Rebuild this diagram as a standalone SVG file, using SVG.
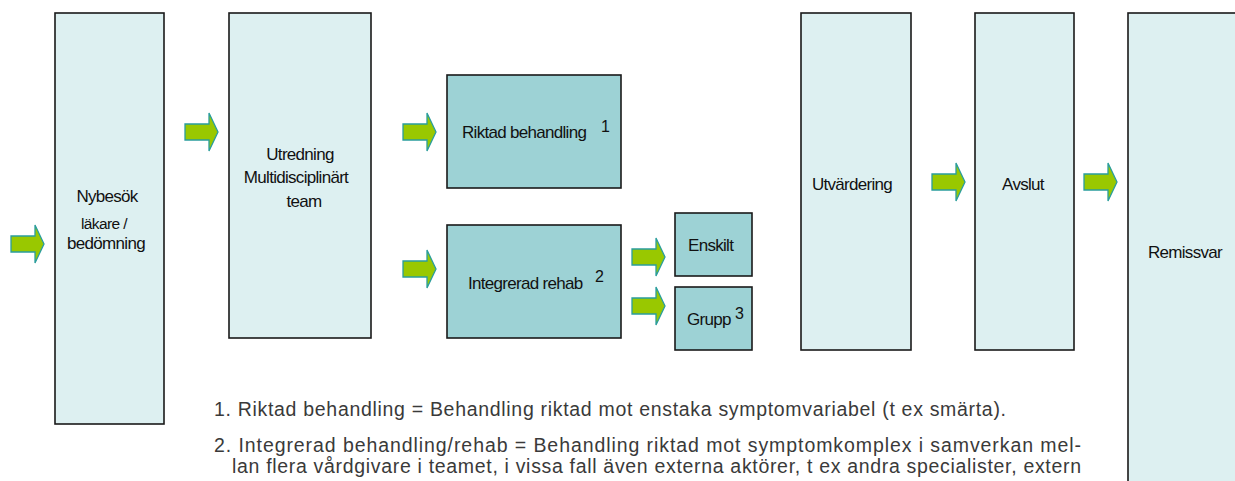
<svg xmlns="http://www.w3.org/2000/svg" width="1235" height="481" viewBox="0 0 1235 481">
  <style>
    .box-light { fill: #ddf0f1; stroke: #1a1a1a; stroke-width: 1.6; }
    .box-dark { fill: #9dd2d5; stroke: #1a1a1a; stroke-width: 1.6; }
    .lbl { font-family: "Liberation Sans", Arial, sans-serif; font-size: 17px; letter-spacing: -0.7px; fill: #111; }
    .sm { font-size: 15.5px; letter-spacing: -0.6px; }
    .sup { font-family: "Liberation Sans", Arial, sans-serif; font-size: 16px; fill: #111; }
    .note { font-family: "Liberation Sans", Arial, sans-serif; font-size: 19.5px; fill: #3a3a3a; }
    .arrow { fill: #99c800; stroke: #2a9d9d; stroke-width: 1.3; stroke-linejoin: miter; }
  </style>
  <defs>
    <path id="arr" d="M0,-8 L24,-8 L24,-19 L33,0 L24,19 L24,8 L0,8 Z"/>
  </defs>
  <rect width="1235" height="481" fill="#ffffff"/>

  <g id="connectors">
    <use href="#arr" class="arrow" x="11" y="244"/>
    <use href="#arr" class="arrow" x="185" y="132"/>
    <use href="#arr" class="arrow" x="403" y="132"/>
    <use href="#arr" class="arrow" x="403" y="269"/>
    <use href="#arr" class="arrow" x="632" y="257"/>
    <use href="#arr" class="arrow" x="632" y="306"/>
    <use href="#arr" class="arrow" x="932" y="182"/>
    <use href="#arr" class="arrow" x="1084" y="182"/>
  </g>

  <g id="nybesok">
    <rect class="box-light" x="55" y="13" width="109" height="411"/>
    <text class="lbl" x="107" y="202" text-anchor="middle">Nybesök</text>
    <text class="lbl sm" x="104" y="229" text-anchor="middle">läkare /</text>
    <text class="lbl" x="106" y="249" text-anchor="middle">bedömning</text>
  </g>

  <g id="utredning">
    <rect class="box-light" x="229" y="13" width="142" height="325"/>
    <text class="lbl" x="300" y="160" text-anchor="middle">Utredning</text>
    <text class="lbl" x="296" y="183" text-anchor="middle">Multidisciplinärt</text>
    <text class="lbl" x="304" y="207" text-anchor="middle">team</text>
  </g>

  <g id="riktad">
    <rect class="box-dark" x="447" y="75" width="174" height="113"/>
    <text class="lbl" x="462" y="138">Riktad behandling</text>
    <text class="sup" x="601" y="132">1</text>
  </g>

  <g id="integrerad">
    <rect class="box-dark" x="447" y="225" width="174" height="113"/>
    <text class="lbl" x="468" y="289">Integrerad rehab</text>
    <text class="sup" x="595" y="282">2</text>
  </g>

  <g id="enskilt">
    <rect class="box-dark" x="675" y="213" width="77" height="63"/>
    <text class="lbl" x="688" y="251">Enskilt</text>
  </g>

  <g id="grupp">
    <rect class="box-dark" x="675" y="287" width="77" height="63"/>
    <text class="lbl" x="687" y="325">Grupp</text>
    <text class="sup" x="735" y="319">3</text>
  </g>

  <g id="utvardering">
    <rect class="box-light" x="801" y="13" width="110" height="337"/>
    <text class="lbl" x="852" y="190" text-anchor="middle">Utvärdering</text>
  </g>

  <g id="avslut">
    <rect class="box-light" x="975" y="13" width="99" height="337"/>
    <text class="lbl" x="1023" y="190" text-anchor="middle">Avslut</text>
  </g>

  <g id="remissvar">
    <rect class="box-light" x="1128" y="13" width="120" height="500"/>
    <text class="lbl" x="1185" y="258" text-anchor="middle">Remissvar</text>
  </g>

  <g id="notes">
    <text class="note" x="214" y="416" textLength="792" lengthAdjust="spacing">1. Riktad behandling = Behandling riktad mot enstaka symptomvariabel (t ex smärta).</text>
    <text class="note" x="214" y="452" textLength="867" lengthAdjust="spacing">2. Integrerad behandling/rehab = Behandling riktad mot symptomkomplex i samverkan mel-</text>
    <text class="note" x="232" y="473" textLength="849" lengthAdjust="spacing">lan flera vårdgivare i teamet, i vissa fall även externa aktörer, t ex andra specialister, extern</text>
  </g>
</svg>
